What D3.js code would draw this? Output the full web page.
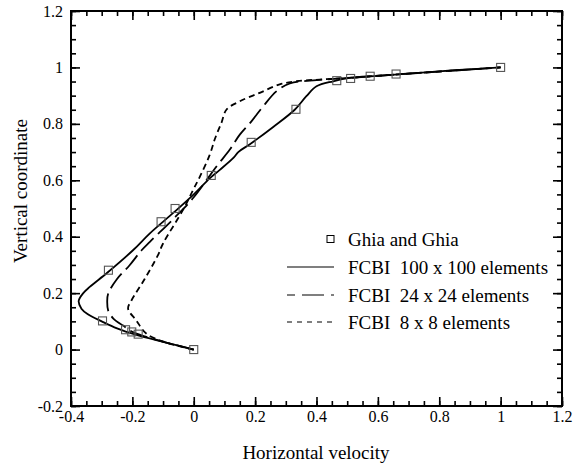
<!DOCTYPE html>
<html>
<head>
<meta charset="utf-8">
<script src="https://cdn.jsdelivr.net/npm/d3@7"></script>
</head>
<body style="margin:0; background:#fff">
<svg width="585" height="468" style="font-family:'Liberation Serif'"></svg>
<script>
// Ghia and Ghia reference points (u along vertical centerline)
var ghiaU = [1.0, 0.65928, 0.57492, 0.51117, 0.46604, 0.33304, 0.18719, 0.05702, -0.0608, -0.10648, -0.27805, -0.2973, -0.2222, -0.20196, -0.18109, 0.0];
var ghiaY = [1.0, 0.9766, 0.9688, 0.9609, 0.9531, 0.8516, 0.7344, 0.6172, 0.5, 0.4531, 0.2813, 0.1016, 0.0703, 0.0625, 0.0547, 0.0];

// FCBI 100 x 100
var fineU = [0, -0.09, -0.187, -0.25, -0.30, -0.345, -0.366, -0.375, -0.36, -0.339, -0.281, -0.198, -0.143, -0.065, 0.0, 0.052, 0.085, 0.13, 0.145, 0.183, 0.26, 0.329, 0.367, 0.40, 0.454, 0.509, 0.6, 0.7, 0.85, 1.0];
var fineY = [0, 0.025, 0.052, 0.075, 0.10, 0.125, 0.145, 0.172, 0.2, 0.222, 0.273, 0.352, 0.412, 0.486, 0.55, 0.607, 0.637, 0.68, 0.70, 0.728, 0.79, 0.85, 0.898, 0.933, 0.951, 0.963, 0.97, 0.978, 0.99, 1.0];

// FCBI 24 x 24
var midU = [0, -0.09, -0.198, -0.23, -0.262, -0.279, -0.282, -0.279, -0.25, -0.209, -0.17, -0.143, -0.06, 0.0, 0.074, 0.117, 0.15, 0.188, 0.226, 0.27, 0.313, 0.4, 0.5, 0.66, 1.0];
var midY = [0, 0.025, 0.062, 0.085, 0.11, 0.139, 0.17, 0.198, 0.25, 0.299, 0.352, 0.382, 0.47, 0.54, 0.649, 0.708, 0.762, 0.809, 0.862, 0.916, 0.943, 0.955, 0.962, 0.975, 1.0];

// FCBI 8 x 8
var coarseU = [0, -0.09, -0.154, -0.187, -0.214, -0.203, -0.16, -0.117, -0.1, -0.035, -0.002, 0.02, 0.052, 0.07, 0.09, 0.107, 0.15, 0.215, 0.28, 0.335, 0.41, 0.5, 0.66, 1.0];
var coarseY = [0, 0.025, 0.056, 0.103, 0.145, 0.174, 0.25, 0.334, 0.376, 0.495, 0.566, 0.613, 0.69, 0.75, 0.803, 0.851, 0.88, 0.91, 0.94, 0.951, 0.957, 0.963, 0.975, 1.0];

var xTicks = [-0.4, -0.2, 0, 0.2, 0.4, 0.6, 0.8, 1, 1.2];
var yTicks = [-0.2, 0, 0.2, 0.4, 0.6, 0.8, 1, 1.2];
var legendLabels = ["Ghia and Ghia", "FCBI  100 x 100 elements", "FCBI  24 x 24 elements", "FCBI  8 x 8 elements"];

var pLeft = 71, pRight = 562, pTop = 11, pBottom = 406;
var serif = "'Liberation Serif'";

var svg = d3.select("svg");
var x = d3.scaleLinear().domain([-0.4, 1.2]).range([pLeft, pRight]);
var y = d3.scaleLinear().domain([-0.2, 1.2]).range([pBottom, pTop]);

var fmt = function(d){ return String(+d.toFixed(1)); };
var minorX = d3.range(-0.4, 1.2001, 0.05).map(function(d){ return +d.toFixed(2); });
var minorY = d3.range(-0.2, 1.2001, 0.05).map(function(d){ return +d.toFixed(2); });

function styleAxis(g){
  g.attr("font-family", null).attr("font-size", null);
  g.select(".domain").remove();
  g.selectAll(".tick line").attr("stroke", "#000").attr("stroke-width", 1.6);
  g.selectAll(".tick text")
    .style("font-family", serif)
    .style("font-size", "16px")
    .attr("fill", "#000");
}

// minor ticks
svg.append("g").attr("transform", "translate(0," + pBottom + ")")
  .call(d3.axisBottom(x).tickValues(minorX).tickSize(-5).tickFormat("")).call(styleAxis);
svg.append("g").attr("transform", "translate(0," + pTop + ")")
  .call(d3.axisTop(x).tickValues(minorX).tickSize(-5).tickFormat("")).call(styleAxis);
svg.append("g").attr("transform", "translate(" + pLeft + ",0)")
  .call(d3.axisLeft(y).tickValues(minorY).tickSize(-5).tickFormat("")).call(styleAxis);
svg.append("g").attr("transform", "translate(" + pRight + ",0)")
  .call(d3.axisRight(y).tickValues(minorY).tickSize(-5).tickFormat("")).call(styleAxis);

// major ticks
svg.append("g").attr("transform", "translate(0," + pBottom + ")")
  .call(d3.axisBottom(x).tickValues(xTicks).tickSize(-9).tickPadding(5).tickFormat(fmt)).call(styleAxis);
svg.append("g").attr("transform", "translate(0," + pTop + ")")
  .call(d3.axisTop(x).tickValues(xTicks).tickSize(-9).tickFormat("")).call(styleAxis);
svg.append("g").attr("transform", "translate(" + pLeft + ",0)")
  .call(d3.axisLeft(y).tickValues(yTicks).tickSize(-9).tickPadding(8).tickFormat(fmt)).call(styleAxis);
svg.append("g").attr("transform", "translate(" + pRight + ",0)")
  .call(d3.axisRight(y).tickValues(yTicks).tickSize(-9).tickFormat("")).call(styleAxis);

svg.append("rect")
  .attr("x", pLeft).attr("y", pTop)
  .attr("width", pRight - pLeft).attr("height", pBottom - pTop)
  .attr("fill", "none").attr("stroke", "#000").attr("stroke-width", 2);

// curves
var line = d3.line()
  .x(function(d){ return x(d[0]); })
  .y(function(d){ return y(d[1]); })
  .curve(d3.curveCatmullRom.alpha(0.5));

var series = [
  {u: coarseU, v: coarseY, dash: "6,4"},
  {u: midU, v: midY, dash: "18,6"},
  {u: fineU, v: fineY, dash: null}
];

series.forEach(function(s){
  svg.append("path")
    .datum(d3.zip(s.u, s.v))
    .attr("d", line)
    .attr("fill", "none")
    .attr("stroke", "#000")
    .attr("stroke-width", 1.8)
    .attr("stroke-dasharray", s.dash);
});

// Ghia squares
var sq = 8;
svg.append("g").selectAll("rect")
  .data(d3.zip(ghiaU, ghiaY))
  .join("rect")
    .attr("x", function(d){ return x(d[0]) - sq/2; })
    .attr("y", function(d){ return y(d[1]) - sq/2; })
    .attr("width", sq).attr("height", sq)
    .attr("fill", "none")
    .attr("stroke", "#555")
    .attr("stroke-width", 1.1);

// legend
var lg = svg.append("g");
var rowY = [239, 267, 295, 322];
lg.append("rect").attr("x", 327).attr("y", rowY[0] - 3.5).attr("width", 7).attr("height", 7)
  .attr("fill", "none").attr("stroke", "#000").attr("stroke-width", 1);
var legDash = [null, null, "8,7,22,7,5", "5,5"];
[1, 2, 3].forEach(function(i){
  lg.append("line").attr("x1", 287).attr("x2", 334).attr("y1", rowY[i]).attr("y2", rowY[i])
    .attr("stroke", "#000").attr("stroke-width", 1.1).attr("stroke-dasharray", legDash[i]);
});
lg.selectAll("text.leg")
  .data(legendLabels)
  .join("text")
    .attr("class", "leg")
    .attr("x", 348)
    .attr("y", function(d, i){ return rowY[i]; })
    .attr("dy", "0.35em")
    .style("font-family", serif)
    .style("font-size", "19px")
    .style("white-space", "pre")
    .text(function(d){ return d; });

// axis titles
svg.append("text")
  .attr("x", 316).attr("y", 459)
  .attr("text-anchor", "middle")
  .style("font-family", serif).style("font-size", "19px")
  .text("Horizontal velocity");

svg.append("text")
  .attr("transform", "translate(27,191) rotate(-90)")
  .attr("text-anchor", "middle")
  .style("font-family", serif).style("font-size", "19px")
  .text("Vertical coordinate");
</script>
</body>
</html>
